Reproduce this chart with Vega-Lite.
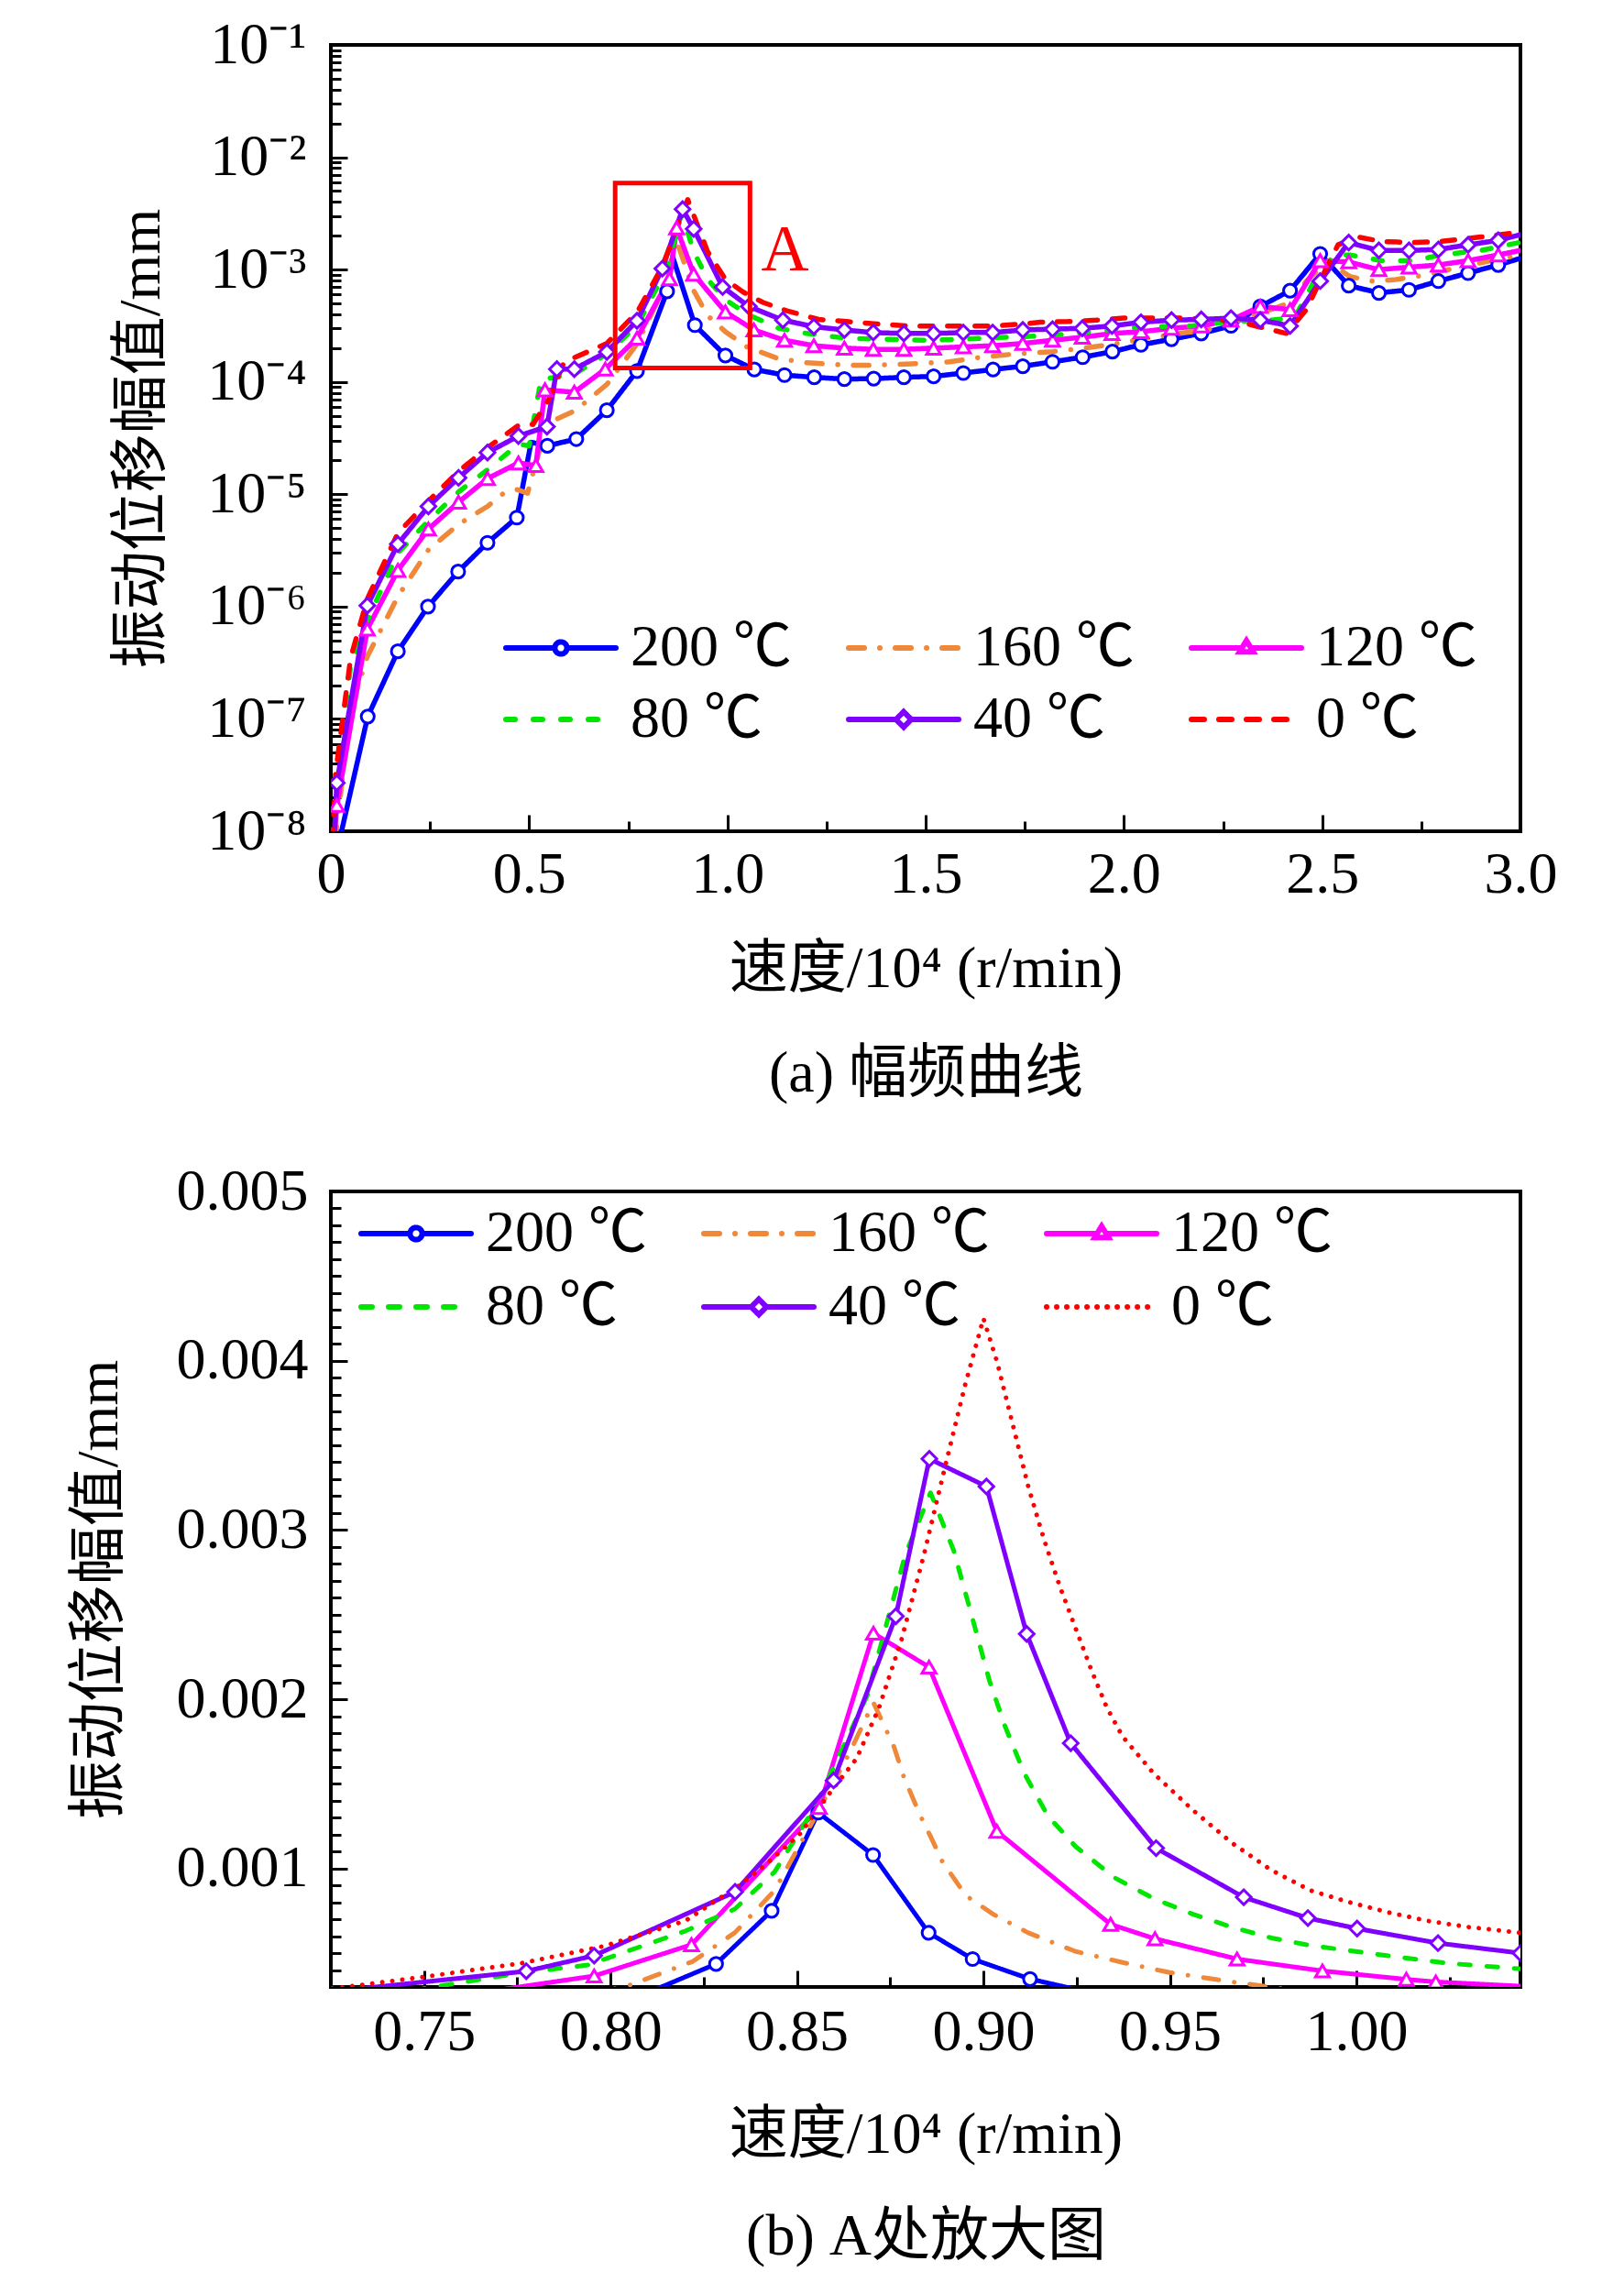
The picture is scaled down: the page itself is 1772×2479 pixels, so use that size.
{
  "$schema": "https://vega.github.io/schema/vega-lite/v6.json",
  "background": "white",
  "padding": {"left": 73, "top": 15, "right": 5, "bottom": 5},
  "config": {
    "font": "Liberation Serif, Noto Sans CJK SC",
    "view": {"stroke": "black", "strokeWidth": 4},
    "axis": {"domain": false, "grid": false, "labelFont": "Liberation Serif, Noto Sans CJK SC", "labelFontSize": 64, "labelColor": "black", "titleFont": "Liberation Serif, Noto Sans CJK SC", "titleFontSize": 64, "titleFontWeight": "normal", "titleColor": "black", "tickColor": "black", "tickWidth": 3, "labelFlush": false, "labelOverlap": false, "labelBound": false},
    "legend": {"labelFont": "Liberation Serif, Noto Sans CJK SC", "labelFontSize": 64, "labelColor": "black", "labelLimit": 0}
  },
  "datasets": {
    "topLines": [
      {"speed": 0.02, "amp": 7.8e-9, "temp": "200 ℃"}, {"speed": 0.093, "amp": 1.05e-7, "temp": "200 ℃"}, {"speed": 0.169, "amp": 4.0e-7, "temp": "200 ℃"}, {"speed": 0.245, "amp": 1.0e-6, "temp": "200 ℃"}, {"speed": 0.321, "amp": 2.05e-6, "temp": "200 ℃"}, {"speed": 0.395, "amp": 3.7e-6, "temp": "200 ℃"}, {"speed": 0.469, "amp": 6.2e-6, "temp": "200 ℃"}, {"speed": 0.505, "amp": 2.9e-5, "temp": "200 ℃"}, {"speed": 0.546, "amp": 2.7e-5, "temp": "200 ℃"}, {"speed": 0.619, "amp": 3.1e-5, "temp": "200 ℃"}, {"speed": 0.696, "amp": 5.6e-5, "temp": "200 ℃"}, {"speed": 0.772, "amp": 1.25e-4, "temp": "200 ℃"}, {"speed": 0.848, "amp": 6.4e-4, "temp": "200 ℃"}, {"speed": 0.862, "amp": 1.3e-3, "temp": "200 ℃"}, {"speed": 0.918, "amp": 3.2e-4, "temp": "200 ℃"}, {"speed": 0.995, "amp": 1.72e-4, "temp": "200 ℃"}, {"speed": 1.068, "amp": 1.29e-4, "temp": "200 ℃"}, {"speed": 1.144, "amp": 1.15e-4, "temp": "200 ℃"}, {"speed": 1.219, "amp": 1.1e-4, "temp": "200 ℃"}, {"speed": 1.295, "amp": 1.06e-4, "temp": "200 ℃"}, {"speed": 1.369, "amp": 1.07e-4, "temp": "200 ℃"}, {"speed": 1.445, "amp": 1.1e-4, "temp": "200 ℃"}, {"speed": 1.52, "amp": 1.12e-4, "temp": "200 ℃"}, {"speed": 1.595, "amp": 1.2e-4, "temp": "200 ℃"}, {"speed": 1.67, "amp": 1.29e-4, "temp": "200 ℃"}, {"speed": 1.745, "amp": 1.38e-4, "temp": "200 ℃"}, {"speed": 1.82, "amp": 1.51e-4, "temp": "200 ℃"}, {"speed": 1.896, "amp": 1.66e-4, "temp": "200 ℃"}, {"speed": 1.971, "amp": 1.86e-4, "temp": "200 ℃"}, {"speed": 2.043, "amp": 2.14e-4, "temp": "200 ℃"}, {"speed": 2.12, "amp": 2.4e-4, "temp": "200 ℃"}, {"speed": 2.195, "amp": 2.7e-4, "temp": "200 ℃"}, {"speed": 2.27, "amp": 3.16e-4, "temp": "200 ℃"}, {"speed": 2.344, "amp": 4.7e-4, "temp": "200 ℃"}, {"speed": 2.419, "amp": 6.5e-4, "temp": "200 ℃"}, {"speed": 2.495, "amp": 1.38e-3, "temp": "200 ℃"}, {"speed": 2.567, "amp": 7.2e-4, "temp": "200 ℃"}, {"speed": 2.643, "amp": 6.2e-4, "temp": "200 ℃"}, {"speed": 2.719, "amp": 6.6e-4, "temp": "200 ℃"}, {"speed": 2.793, "amp": 7.9e-4, "temp": "200 ℃"}, {"speed": 2.868, "amp": 9.3e-4, "temp": "200 ℃"}, {"speed": 2.944, "amp": 1.1e-3, "temp": "200 ℃"}, {"speed": 3.0, "amp": 1.26e-3, "temp": "200 ℃"},
      {"speed": 0.01, "amp": 8e-9, "temp": "160 ℃"}, {"speed": 0.05, "amp": 1.2e-7, "temp": "160 ℃"}, {"speed": 0.092, "amp": 3.6e-7, "temp": "160 ℃"}, {"speed": 0.169, "amp": 1.23e-6, "temp": "160 ℃"}, {"speed": 0.246, "amp": 3.2e-6, "temp": "160 ℃"}, {"speed": 0.322, "amp": 5.4e-6, "temp": "160 ℃"}, {"speed": 0.395, "amp": 7.8e-6, "temp": "160 ℃"}, {"speed": 0.44, "amp": 1.05e-5, "temp": "160 ℃"}, {"speed": 0.47, "amp": 1.1e-5, "temp": "160 ℃"}, {"speed": 0.496, "amp": 1.02e-5, "temp": "160 ℃"}, {"speed": 0.535, "amp": 3.2e-5, "temp": "160 ℃"}, {"speed": 0.56, "amp": 4.5e-5, "temp": "160 ℃"}, {"speed": 0.618, "amp": 5.6e-5, "temp": "160 ℃"}, {"speed": 0.696, "amp": 9.5e-5, "temp": "160 ℃"}, {"speed": 0.773, "amp": 2.2e-4, "temp": "160 ℃"}, {"speed": 0.848, "amp": 7.9e-4, "temp": "160 ℃"}, {"speed": 0.87, "amp": 1.9e-3, "temp": "160 ℃"}, {"speed": 0.915, "amp": 6.5e-4, "temp": "160 ℃"}, {"speed": 0.95, "amp": 3.9e-4, "temp": "160 ℃"}, {"speed": 0.995, "amp": 2.8e-4, "temp": "160 ℃"}, {"speed": 1.05, "amp": 2.04e-4, "temp": "160 ℃"}, {"speed": 1.127, "amp": 1.62e-4, "temp": "160 ℃"}, {"speed": 1.2, "amp": 1.48e-4, "temp": "160 ℃"}, {"speed": 1.3, "amp": 1.41e-4, "temp": "160 ℃"}, {"speed": 1.37, "amp": 1.41e-4, "temp": "160 ℃"}, {"speed": 1.465, "amp": 1.45e-4, "temp": "160 ℃"}, {"speed": 1.56, "amp": 1.51e-4, "temp": "160 ℃"}, {"speed": 1.64, "amp": 1.66e-4, "temp": "160 ℃"}, {"speed": 1.73, "amp": 1.78e-4, "temp": "160 ℃"}, {"speed": 1.82, "amp": 1.86e-4, "temp": "160 ℃"}, {"speed": 1.9, "amp": 2.0e-4, "temp": "160 ℃"}, {"speed": 2.0, "amp": 2.24e-4, "temp": "160 ℃"}, {"speed": 2.06, "amp": 2.45e-4, "temp": "160 ℃"}, {"speed": 2.14, "amp": 2.7e-4, "temp": "160 ℃"}, {"speed": 2.22, "amp": 2.95e-4, "temp": "160 ℃"}, {"speed": 2.29, "amp": 3.55e-4, "temp": "160 ℃"}, {"speed": 2.37, "amp": 4.4e-4, "temp": "160 ℃"}, {"speed": 2.42, "amp": 5.1e-4, "temp": "160 ℃"}, {"speed": 2.46, "amp": 7.9e-4, "temp": "160 ℃"}, {"speed": 2.5, "amp": 1.07e-3, "temp": "160 ℃"}, {"speed": 2.53, "amp": 1.07e-3, "temp": "160 ℃"}, {"speed": 2.57, "amp": 8.7e-4, "temp": "160 ℃"}, {"speed": 2.62, "amp": 7.9e-4, "temp": "160 ℃"}, {"speed": 2.68, "amp": 8.1e-4, "temp": "160 ℃"}, {"speed": 2.74, "amp": 8.7e-4, "temp": "160 ℃"}, {"speed": 2.82, "amp": 1.0e-3, "temp": "160 ℃"}, {"speed": 2.91, "amp": 1.17e-3, "temp": "160 ℃"}, {"speed": 3.0, "amp": 1.35e-3, "temp": "160 ℃"},
      {"speed": 0.008, "amp": 8e-9, "temp": "120 ℃"}, {"speed": 0.015, "amp": 1.7e-8, "temp": "120 ℃"}, {"speed": 0.092, "amp": 6.3e-7, "temp": "120 ℃"}, {"speed": 0.169, "amp": 2.1e-6, "temp": "120 ℃"}, {"speed": 0.246, "amp": 4.9e-6, "temp": "120 ℃"}, {"speed": 0.322, "amp": 8.5e-6, "temp": "120 ℃"}, {"speed": 0.395, "amp": 1.38e-5, "temp": "120 ℃"}, {"speed": 0.473, "amp": 1.9e-5, "temp": "120 ℃"}, {"speed": 0.517, "amp": 1.8e-5, "temp": "120 ℃"}, {"speed": 0.54, "amp": 8.5e-5, "temp": "120 ℃"}, {"speed": 0.614, "amp": 8.1e-5, "temp": "120 ℃"}, {"speed": 0.692, "amp": 1.3e-4, "temp": "120 ℃"}, {"speed": 0.772, "amp": 2.45e-4, "temp": "120 ℃"}, {"speed": 0.854, "amp": 8.3e-4, "temp": "120 ℃"}, {"speed": 0.872, "amp": 2.35e-3, "temp": "120 ℃"}, {"speed": 0.915, "amp": 9.1e-4, "temp": "120 ℃"}, {"speed": 0.995, "amp": 4.2e-4, "temp": "120 ℃"}, {"speed": 1.067, "amp": 2.9e-4, "temp": "120 ℃"}, {"speed": 1.144, "amp": 2.35e-4, "temp": "120 ℃"}, {"speed": 1.218, "amp": 2.1e-4, "temp": "120 ℃"}, {"speed": 1.295, "amp": 2.0e-4, "temp": "120 ℃"}, {"speed": 1.368, "amp": 1.95e-4, "temp": "120 ℃"}, {"speed": 1.445, "amp": 1.95e-4, "temp": "120 ℃"}, {"speed": 1.52, "amp": 2.0e-4, "temp": "120 ℃"}, {"speed": 1.595, "amp": 2.05e-4, "temp": "120 ℃"}, {"speed": 1.669, "amp": 2.1e-4, "temp": "120 ℃"}, {"speed": 1.745, "amp": 2.2e-4, "temp": "120 ℃"}, {"speed": 1.82, "amp": 2.35e-4, "temp": "120 ℃"}, {"speed": 1.895, "amp": 2.5e-4, "temp": "120 ℃"}, {"speed": 1.97, "amp": 2.7e-4, "temp": "120 ℃"}, {"speed": 2.043, "amp": 2.8e-4, "temp": "120 ℃"}, {"speed": 2.12, "amp": 3.0e-4, "temp": "120 ℃"}, {"speed": 2.195, "amp": 3.15e-4, "temp": "120 ℃"}, {"speed": 2.27, "amp": 3.55e-4, "temp": "120 ℃"}, {"speed": 2.344, "amp": 4.7e-4, "temp": "120 ℃"}, {"speed": 2.419, "amp": 4.4e-4, "temp": "120 ℃"}, {"speed": 2.495, "amp": 1.2e-3, "temp": "120 ℃"}, {"speed": 2.567, "amp": 1.17e-3, "temp": "120 ℃"}, {"speed": 2.643, "amp": 1.0e-3, "temp": "120 ℃"}, {"speed": 2.719, "amp": 1.05e-3, "temp": "120 ℃"}, {"speed": 2.793, "amp": 1.1e-3, "temp": "120 ℃"}, {"speed": 2.868, "amp": 1.2e-3, "temp": "120 ℃"}, {"speed": 2.944, "amp": 1.35e-3, "temp": "120 ℃"}, {"speed": 3.0, "amp": 1.48e-3, "temp": "120 ℃"},
      {"speed": 0.006, "amp": 8e-9, "temp": "80 ℃"}, {"speed": 0.015, "amp": 3e-8, "temp": "80 ℃"}, {"speed": 0.05, "amp": 3e-7, "temp": "80 ℃"}, {"speed": 0.092, "amp": 7.5e-7, "temp": "80 ℃"}, {"speed": 0.169, "amp": 3.0e-6, "temp": "80 ℃"}, {"speed": 0.246, "amp": 5.8e-6, "temp": "80 ℃"}, {"speed": 0.322, "amp": 1.05e-5, "temp": "80 ℃"}, {"speed": 0.395, "amp": 1.65e-5, "temp": "80 ℃"}, {"speed": 0.473, "amp": 2.8e-5, "temp": "80 ℃"}, {"speed": 0.5, "amp": 2.7e-5, "temp": "80 ℃"}, {"speed": 0.53, "amp": 1.05e-4, "temp": "80 ℃"}, {"speed": 0.614, "amp": 1.17e-4, "temp": "80 ℃"}, {"speed": 0.696, "amp": 1.78e-4, "temp": "80 ℃"}, {"speed": 0.773, "amp": 3.2e-4, "temp": "80 ℃"}, {"speed": 0.85, "amp": 1.07e-3, "temp": "80 ℃"}, {"speed": 0.885, "amp": 3.2e-3, "temp": "80 ℃"}, {"speed": 0.915, "amp": 1.45e-3, "temp": "80 ℃"}, {"speed": 0.95, "amp": 8.2e-4, "temp": "80 ℃"}, {"speed": 0.995, "amp": 5.4e-4, "temp": "80 ℃"}, {"speed": 1.05, "amp": 4.0e-4, "temp": "80 ℃"}, {"speed": 1.13, "amp": 3.0e-4, "temp": "80 ℃"}, {"speed": 1.2, "amp": 2.7e-4, "temp": "80 ℃"}, {"speed": 1.3, "amp": 2.45e-4, "temp": "80 ℃"}, {"speed": 1.4, "amp": 2.4e-4, "temp": "80 ℃"}, {"speed": 1.5, "amp": 2.35e-4, "temp": "80 ℃"}, {"speed": 1.6, "amp": 2.4e-4, "temp": "80 ℃"}, {"speed": 1.7, "amp": 2.5e-4, "temp": "80 ℃"}, {"speed": 1.8, "amp": 2.57e-4, "temp": "80 ℃"}, {"speed": 1.9, "amp": 2.75e-4, "temp": "80 ℃"}, {"speed": 2.0, "amp": 3.0e-4, "temp": "80 ℃"}, {"speed": 2.06, "amp": 3.1e-4, "temp": "80 ℃"}, {"speed": 2.17, "amp": 3.15e-4, "temp": "80 ℃"}, {"speed": 2.27, "amp": 3.45e-4, "temp": "80 ℃"}, {"speed": 2.37, "amp": 3.55e-4, "temp": "80 ℃"}, {"speed": 2.43, "amp": 3.7e-4, "temp": "80 ℃"}, {"speed": 2.48, "amp": 7.9e-4, "temp": "80 ℃"}, {"speed": 2.53, "amp": 1.35e-3, "temp": "80 ℃"}, {"speed": 2.57, "amp": 1.35e-3, "temp": "80 ℃"}, {"speed": 2.65, "amp": 1.2e-3, "temp": "80 ℃"}, {"speed": 2.73, "amp": 1.2e-3, "temp": "80 ℃"}, {"speed": 2.8, "amp": 1.35e-3, "temp": "80 ℃"}, {"speed": 2.9, "amp": 1.48e-3, "temp": "80 ℃"}, {"speed": 3.0, "amp": 1.75e-3, "temp": "80 ℃"},
      {"speed": 0.008, "amp": 8e-9, "temp": "40 ℃"}, {"speed": 0.015, "amp": 2.7e-8, "temp": "40 ℃"}, {"speed": 0.092, "amp": 1.02e-6, "temp": "40 ℃"}, {"speed": 0.169, "amp": 3.6e-6, "temp": "40 ℃"}, {"speed": 0.246, "amp": 7.8e-6, "temp": "40 ℃"}, {"speed": 0.322, "amp": 1.4e-5, "temp": "40 ℃"}, {"speed": 0.395, "amp": 2.35e-5, "temp": "40 ℃"}, {"speed": 0.473, "amp": 3.3e-5, "temp": "40 ℃"}, {"speed": 0.545, "amp": 4.0e-5, "temp": "40 ℃"}, {"speed": 0.57, "amp": 1.3e-4, "temp": "40 ℃"}, {"speed": 0.614, "amp": 1.3e-4, "temp": "40 ℃"}, {"speed": 0.696, "amp": 1.85e-4, "temp": "40 ℃"}, {"speed": 0.772, "amp": 3.5e-4, "temp": "40 ℃"}, {"speed": 0.836, "amp": 1.02e-3, "temp": "40 ℃"}, {"speed": 0.887, "amp": 3.45e-3, "temp": "40 ℃"}, {"speed": 0.915, "amp": 2.3e-3, "temp": "40 ℃"}, {"speed": 0.988, "amp": 7.0e-4, "temp": "40 ℃"}, {"speed": 1.054, "amp": 4.7e-4, "temp": "40 ℃"}, {"speed": 1.14, "amp": 3.55e-4, "temp": "40 ℃"}, {"speed": 1.218, "amp": 3.1e-4, "temp": "40 ℃"}, {"speed": 1.295, "amp": 2.9e-4, "temp": "40 ℃"}, {"speed": 1.368, "amp": 2.75e-4, "temp": "40 ℃"}, {"speed": 1.445, "amp": 2.7e-4, "temp": "40 ℃"}, {"speed": 1.52, "amp": 2.7e-4, "temp": "40 ℃"}, {"speed": 1.595, "amp": 2.75e-4, "temp": "40 ℃"}, {"speed": 1.669, "amp": 2.75e-4, "temp": "40 ℃"}, {"speed": 1.745, "amp": 2.9e-4, "temp": "40 ℃"}, {"speed": 1.82, "amp": 2.95e-4, "temp": "40 ℃"}, {"speed": 1.895, "amp": 3.0e-4, "temp": "40 ℃"}, {"speed": 1.97, "amp": 3.15e-4, "temp": "40 ℃"}, {"speed": 2.043, "amp": 3.4e-4, "temp": "40 ℃"}, {"speed": 2.12, "amp": 3.55e-4, "temp": "40 ℃"}, {"speed": 2.195, "amp": 3.6e-4, "temp": "40 ℃"}, {"speed": 2.27, "amp": 3.7e-4, "temp": "40 ℃"}, {"speed": 2.344, "amp": 3.55e-4, "temp": "40 ℃"}, {"speed": 2.419, "amp": 3.15e-4, "temp": "40 ℃"}, {"speed": 2.495, "amp": 7.9e-4, "temp": "40 ℃"}, {"speed": 2.567, "amp": 1.74e-3, "temp": "40 ℃"}, {"speed": 2.643, "amp": 1.48e-3, "temp": "40 ℃"}, {"speed": 2.719, "amp": 1.48e-3, "temp": "40 ℃"}, {"speed": 2.793, "amp": 1.51e-3, "temp": "40 ℃"}, {"speed": 2.868, "amp": 1.66e-3, "temp": "40 ℃"}, {"speed": 2.944, "amp": 1.82e-3, "temp": "40 ℃"}, {"speed": 3.0, "amp": 2.05e-3, "temp": "40 ℃"},
      {"speed": 0.004, "amp": 8e-9, "temp": "0 ℃"}, {"speed": 0.012, "amp": 3.3e-8, "temp": "0 ℃"}, {"speed": 0.05, "amp": 3.5e-7, "temp": "0 ℃"}, {"speed": 0.092, "amp": 1.17e-6, "temp": "0 ℃"}, {"speed": 0.169, "amp": 4.5e-6, "temp": "0 ℃"}, {"speed": 0.246, "amp": 8.7e-6, "temp": "0 ℃"}, {"speed": 0.322, "amp": 1.6e-5, "temp": "0 ℃"}, {"speed": 0.395, "amp": 2.6e-5, "temp": "0 ℃"}, {"speed": 0.473, "amp": 4.1e-5, "temp": "0 ℃"}, {"speed": 0.51, "amp": 4.2e-5, "temp": "0 ℃"}, {"speed": 0.55, "amp": 7.0e-5, "temp": "0 ℃"}, {"speed": 0.588, "amp": 1.5e-4, "temp": "0 ℃"}, {"speed": 0.696, "amp": 2.2e-4, "temp": "0 ℃"}, {"speed": 0.773, "amp": 4.2e-4, "temp": "0 ℃"}, {"speed": 0.836, "amp": 1.07e-3, "temp": "0 ℃"}, {"speed": 0.9, "amp": 4.2e-3, "temp": "0 ℃"}, {"speed": 0.95, "amp": 1.45e-3, "temp": "0 ℃"}, {"speed": 0.995, "amp": 8.2e-4, "temp": "0 ℃"}, {"speed": 1.04, "amp": 6.3e-4, "temp": "0 ℃"}, {"speed": 1.09, "amp": 5.1e-4, "temp": "0 ℃"}, {"speed": 1.15, "amp": 4.3e-4, "temp": "0 ℃"}, {"speed": 1.23, "amp": 3.6e-4, "temp": "0 ℃"}, {"speed": 1.3, "amp": 3.45e-4, "temp": "0 ℃"}, {"speed": 1.37, "amp": 3.3e-4, "temp": "0 ℃"}, {"speed": 1.45, "amp": 3.15e-4, "temp": "0 ℃"}, {"speed": 1.51, "amp": 3.15e-4, "temp": "0 ℃"}, {"speed": 1.59, "amp": 3.15e-4, "temp": "0 ℃"}, {"speed": 1.67, "amp": 3.15e-4, "temp": "0 ℃"}, {"speed": 1.73, "amp": 3.25e-4, "temp": "0 ℃"}, {"speed": 1.79, "amp": 3.4e-4, "temp": "0 ℃"}, {"speed": 1.86, "amp": 3.45e-4, "temp": "0 ℃"}, {"speed": 1.93, "amp": 3.55e-4, "temp": "0 ℃"}, {"speed": 2.0, "amp": 3.7e-4, "temp": "0 ℃"}, {"speed": 2.06, "amp": 3.7e-4, "temp": "0 ℃"}, {"speed": 2.14, "amp": 3.7e-4, "temp": "0 ℃"}, {"speed": 2.22, "amp": 3.6e-4, "temp": "0 ℃"}, {"speed": 2.29, "amp": 3.45e-4, "temp": "0 ℃"}, {"speed": 2.34, "amp": 3.1e-4, "temp": "0 ℃"}, {"speed": 2.41, "amp": 2.7e-4, "temp": "0 ℃"}, {"speed": 2.46, "amp": 4.4e-4, "temp": "0 ℃"}, {"speed": 2.5, "amp": 8.7e-4, "temp": "0 ℃"}, {"speed": 2.54, "amp": 1.66e-3, "temp": "0 ℃"}, {"speed": 2.59, "amp": 1.95e-3, "temp": "0 ℃"}, {"speed": 2.65, "amp": 1.78e-3, "temp": "0 ℃"}, {"speed": 2.73, "amp": 1.74e-3, "temp": "0 ℃"}, {"speed": 2.8, "amp": 1.78e-3, "temp": "0 ℃"}, {"speed": 2.9, "amp": 1.95e-3, "temp": "0 ℃"}, {"speed": 3.0, "amp": 2.15e-3, "temp": "0 ℃"}
    ],
    "topMarks": [
      {"speed": 0.093, "amp": 1.05e-7, "temp": "200 ℃"}, {"speed": 0.169, "amp": 4.0e-7, "temp": "200 ℃"}, {"speed": 0.245, "amp": 1.0e-6, "temp": "200 ℃"}, {"speed": 0.321, "amp": 2.05e-6, "temp": "200 ℃"}, {"speed": 0.395, "amp": 3.7e-6, "temp": "200 ℃"}, {"speed": 0.469, "amp": 6.2e-6, "temp": "200 ℃"}, {"speed": 0.546, "amp": 2.7e-5, "temp": "200 ℃"}, {"speed": 0.619, "amp": 3.1e-5, "temp": "200 ℃"}, {"speed": 0.696, "amp": 5.6e-5, "temp": "200 ℃"}, {"speed": 0.772, "amp": 1.25e-4, "temp": "200 ℃"}, {"speed": 0.848, "amp": 6.4e-4, "temp": "200 ℃"}, {"speed": 0.918, "amp": 3.2e-4, "temp": "200 ℃"}, {"speed": 0.995, "amp": 1.72e-4, "temp": "200 ℃"}, {"speed": 1.068, "amp": 1.29e-4, "temp": "200 ℃"}, {"speed": 1.144, "amp": 1.15e-4, "temp": "200 ℃"}, {"speed": 1.219, "amp": 1.1e-4, "temp": "200 ℃"}, {"speed": 1.295, "amp": 1.06e-4, "temp": "200 ℃"}, {"speed": 1.369, "amp": 1.07e-4, "temp": "200 ℃"}, {"speed": 1.445, "amp": 1.1e-4, "temp": "200 ℃"}, {"speed": 1.52, "amp": 1.12e-4, "temp": "200 ℃"}, {"speed": 1.595, "amp": 1.2e-4, "temp": "200 ℃"}, {"speed": 1.67, "amp": 1.29e-4, "temp": "200 ℃"}, {"speed": 1.745, "amp": 1.38e-4, "temp": "200 ℃"}, {"speed": 1.82, "amp": 1.51e-4, "temp": "200 ℃"}, {"speed": 1.896, "amp": 1.66e-4, "temp": "200 ℃"}, {"speed": 1.971, "amp": 1.86e-4, "temp": "200 ℃"}, {"speed": 2.043, "amp": 2.14e-4, "temp": "200 ℃"}, {"speed": 2.12, "amp": 2.4e-4, "temp": "200 ℃"}, {"speed": 2.195, "amp": 2.7e-4, "temp": "200 ℃"}, {"speed": 2.27, "amp": 3.16e-4, "temp": "200 ℃"}, {"speed": 2.344, "amp": 4.7e-4, "temp": "200 ℃"}, {"speed": 2.419, "amp": 6.5e-4, "temp": "200 ℃"}, {"speed": 2.495, "amp": 1.38e-3, "temp": "200 ℃"}, {"speed": 2.567, "amp": 7.2e-4, "temp": "200 ℃"}, {"speed": 2.643, "amp": 6.2e-4, "temp": "200 ℃"}, {"speed": 2.719, "amp": 6.6e-4, "temp": "200 ℃"}, {"speed": 2.793, "amp": 7.9e-4, "temp": "200 ℃"}, {"speed": 2.868, "amp": 9.3e-4, "temp": "200 ℃"}, {"speed": 2.944, "amp": 1.1e-3, "temp": "200 ℃"},
      {"speed": 0.015, "amp": 1.7e-8, "temp": "120 ℃"}, {"speed": 0.092, "amp": 6.3e-7, "temp": "120 ℃"}, {"speed": 0.169, "amp": 2.1e-6, "temp": "120 ℃"}, {"speed": 0.246, "amp": 4.9e-6, "temp": "120 ℃"}, {"speed": 0.322, "amp": 8.5e-6, "temp": "120 ℃"}, {"speed": 0.395, "amp": 1.38e-5, "temp": "120 ℃"}, {"speed": 0.473, "amp": 1.9e-5, "temp": "120 ℃"}, {"speed": 0.517, "amp": 1.8e-5, "temp": "120 ℃"}, {"speed": 0.54, "amp": 8.5e-5, "temp": "120 ℃"}, {"speed": 0.614, "amp": 8.1e-5, "temp": "120 ℃"}, {"speed": 0.692, "amp": 1.3e-4, "temp": "120 ℃"}, {"speed": 0.772, "amp": 2.45e-4, "temp": "120 ℃"}, {"speed": 0.854, "amp": 8.3e-4, "temp": "120 ℃"}, {"speed": 0.872, "amp": 2.35e-3, "temp": "120 ℃"}, {"speed": 0.915, "amp": 9.1e-4, "temp": "120 ℃"}, {"speed": 0.995, "amp": 4.2e-4, "temp": "120 ℃"}, {"speed": 1.067, "amp": 2.9e-4, "temp": "120 ℃"}, {"speed": 1.144, "amp": 2.35e-4, "temp": "120 ℃"}, {"speed": 1.218, "amp": 2.1e-4, "temp": "120 ℃"}, {"speed": 1.295, "amp": 2.0e-4, "temp": "120 ℃"}, {"speed": 1.368, "amp": 1.95e-4, "temp": "120 ℃"}, {"speed": 1.445, "amp": 1.95e-4, "temp": "120 ℃"}, {"speed": 1.52, "amp": 2.0e-4, "temp": "120 ℃"}, {"speed": 1.595, "amp": 2.05e-4, "temp": "120 ℃"}, {"speed": 1.669, "amp": 2.1e-4, "temp": "120 ℃"}, {"speed": 1.745, "amp": 2.2e-4, "temp": "120 ℃"}, {"speed": 1.82, "amp": 2.35e-4, "temp": "120 ℃"}, {"speed": 1.895, "amp": 2.5e-4, "temp": "120 ℃"}, {"speed": 1.97, "amp": 2.7e-4, "temp": "120 ℃"}, {"speed": 2.043, "amp": 2.8e-4, "temp": "120 ℃"}, {"speed": 2.12, "amp": 3.0e-4, "temp": "120 ℃"}, {"speed": 2.195, "amp": 3.15e-4, "temp": "120 ℃"}, {"speed": 2.27, "amp": 3.55e-4, "temp": "120 ℃"}, {"speed": 2.344, "amp": 4.7e-4, "temp": "120 ℃"}, {"speed": 2.419, "amp": 4.4e-4, "temp": "120 ℃"}, {"speed": 2.495, "amp": 1.2e-3, "temp": "120 ℃"}, {"speed": 2.567, "amp": 1.17e-3, "temp": "120 ℃"}, {"speed": 2.643, "amp": 1.0e-3, "temp": "120 ℃"}, {"speed": 2.719, "amp": 1.05e-3, "temp": "120 ℃"}, {"speed": 2.793, "amp": 1.1e-3, "temp": "120 ℃"}, {"speed": 2.868, "amp": 1.2e-3, "temp": "120 ℃"}, {"speed": 2.944, "amp": 1.35e-3, "temp": "120 ℃"},
      {"speed": 0.015, "amp": 2.7e-8, "temp": "40 ℃"}, {"speed": 0.092, "amp": 1.02e-6, "temp": "40 ℃"}, {"speed": 0.169, "amp": 3.6e-6, "temp": "40 ℃"}, {"speed": 0.246, "amp": 7.8e-6, "temp": "40 ℃"}, {"speed": 0.322, "amp": 1.4e-5, "temp": "40 ℃"}, {"speed": 0.395, "amp": 2.35e-5, "temp": "40 ℃"}, {"speed": 0.473, "amp": 3.3e-5, "temp": "40 ℃"}, {"speed": 0.545, "amp": 4.0e-5, "temp": "40 ℃"}, {"speed": 0.57, "amp": 1.3e-4, "temp": "40 ℃"}, {"speed": 0.614, "amp": 1.3e-4, "temp": "40 ℃"}, {"speed": 0.696, "amp": 1.85e-4, "temp": "40 ℃"}, {"speed": 0.772, "amp": 3.5e-4, "temp": "40 ℃"}, {"speed": 0.836, "amp": 1.02e-3, "temp": "40 ℃"}, {"speed": 0.887, "amp": 3.45e-3, "temp": "40 ℃"}, {"speed": 0.915, "amp": 2.3e-3, "temp": "40 ℃"}, {"speed": 0.988, "amp": 7.0e-4, "temp": "40 ℃"}, {"speed": 1.054, "amp": 4.7e-4, "temp": "40 ℃"}, {"speed": 1.14, "amp": 3.55e-4, "temp": "40 ℃"}, {"speed": 1.218, "amp": 3.1e-4, "temp": "40 ℃"}, {"speed": 1.295, "amp": 2.9e-4, "temp": "40 ℃"}, {"speed": 1.368, "amp": 2.75e-4, "temp": "40 ℃"}, {"speed": 1.445, "amp": 2.7e-4, "temp": "40 ℃"}, {"speed": 1.52, "amp": 2.7e-4, "temp": "40 ℃"}, {"speed": 1.595, "amp": 2.75e-4, "temp": "40 ℃"}, {"speed": 1.669, "amp": 2.75e-4, "temp": "40 ℃"}, {"speed": 1.745, "amp": 2.9e-4, "temp": "40 ℃"}, {"speed": 1.82, "amp": 2.95e-4, "temp": "40 ℃"}, {"speed": 1.895, "amp": 3.0e-4, "temp": "40 ℃"}, {"speed": 1.97, "amp": 3.15e-4, "temp": "40 ℃"}, {"speed": 2.043, "amp": 3.4e-4, "temp": "40 ℃"}, {"speed": 2.12, "amp": 3.55e-4, "temp": "40 ℃"}, {"speed": 2.195, "amp": 3.6e-4, "temp": "40 ℃"}, {"speed": 2.27, "amp": 3.7e-4, "temp": "40 ℃"}, {"speed": 2.344, "amp": 3.55e-4, "temp": "40 ℃"}, {"speed": 2.419, "amp": 3.15e-4, "temp": "40 ℃"}, {"speed": 2.495, "amp": 7.9e-4, "temp": "40 ℃"}, {"speed": 2.567, "amp": 1.74e-3, "temp": "40 ℃"}, {"speed": 2.643, "amp": 1.48e-3, "temp": "40 ℃"}, {"speed": 2.719, "amp": 1.48e-3, "temp": "40 ℃"}, {"speed": 2.793, "amp": 1.51e-3, "temp": "40 ℃"}, {"speed": 2.868, "amp": 1.66e-3, "temp": "40 ℃"}, {"speed": 2.944, "amp": 1.82e-3, "temp": "40 ℃"}
    ],
    "zoomLines": [
      {"speed": 0.805, "amp": 2.2e-4, "temp": "200 ℃"}, {"speed": 0.8283, "amp": 4.36e-4, "temp": "200 ℃"}, {"speed": 0.8432, "amp": 7.5e-4, "temp": "200 ℃"}, {"speed": 0.8557, "amp": 1.33e-3, "temp": "200 ℃"}, {"speed": 0.8704, "amp": 1.08e-3, "temp": "200 ℃"}, {"speed": 0.8853, "amp": 6.2e-4, "temp": "200 ℃"}, {"speed": 0.8971, "amp": 4.65e-4, "temp": "200 ℃"}, {"speed": 0.9125, "amp": 3.47e-4, "temp": "200 ℃"}, {"speed": 0.94, "amp": 2.1e-4, "temp": "200 ℃"},
      {"speed": 0.785, "amp": 2.0e-4, "temp": "160 ℃"}, {"speed": 0.805, "amp": 3.1e-4, "temp": "160 ℃"}, {"speed": 0.822, "amp": 4.5e-4, "temp": "160 ℃"}, {"speed": 0.8333, "amp": 6.2e-4, "temp": "160 ℃"}, {"speed": 0.844, "amp": 8.7e-4, "temp": "160 ℃"}, {"speed": 0.855, "amp": 1.31e-3, "temp": "160 ℃"}, {"speed": 0.864, "amp": 1.68e-3, "temp": "160 ℃"}, {"speed": 0.8705, "amp": 1.98e-3, "temp": "160 ℃"}, {"speed": 0.876, "amp": 1.72e-3, "temp": "160 ℃"}, {"speed": 0.8785, "amp": 1.55e-3, "temp": "160 ℃"}, {"speed": 0.8827, "amp": 1.33e-3, "temp": "160 ℃"}, {"speed": 0.8858, "amp": 1.19e-3, "temp": "160 ℃"}, {"speed": 0.889, "amp": 1.04e-3, "temp": "160 ℃"}, {"speed": 0.8953, "amp": 8.4e-4, "temp": "160 ℃"}, {"speed": 0.9026, "amp": 7.3e-4, "temp": "160 ℃"}, {"speed": 0.912, "amp": 6.2e-4, "temp": "160 ℃"}, {"speed": 0.9247, "amp": 5.1e-4, "temp": "160 ℃"}, {"speed": 0.9373, "amp": 4.45e-4, "temp": "160 ℃"}, {"speed": 0.95, "amp": 3.85e-4, "temp": "160 ℃"}, {"speed": 0.9667, "amp": 3.3e-4, "temp": "160 ℃"}, {"speed": 0.975, "amp": 3.05e-4, "temp": "160 ℃"}, {"speed": 0.99, "amp": 2.6e-4, "temp": "160 ℃"},
      {"speed": 0.76, "amp": 2.5e-4, "temp": "120 ℃"}, {"speed": 0.7956, "amp": 3.65e-4, "temp": "120 ℃"}, {"speed": 0.8217, "amp": 5.5e-4, "temp": "120 ℃"}, {"speed": 0.856, "amp": 1.36e-3, "temp": "120 ℃"}, {"speed": 0.8705, "amp": 2.39e-3, "temp": "120 ℃"}, {"speed": 0.8854, "amp": 2.19e-3, "temp": "120 ℃"}, {"speed": 0.9036, "amp": 1.22e-3, "temp": "120 ℃"}, {"speed": 0.9341, "amp": 6.7e-4, "temp": "120 ℃"}, {"speed": 0.946, "amp": 5.85e-4, "temp": "120 ℃"}, {"speed": 0.968, "amp": 4.65e-4, "temp": "120 ℃"}, {"speed": 0.9909, "amp": 3.95e-4, "temp": "120 ℃"}, {"speed": 1.0134, "amp": 3.45e-4, "temp": "120 ℃"}, {"speed": 1.0213, "amp": 3.3e-4, "temp": "120 ℃"}, {"speed": 1.044, "amp": 3.05e-4, "temp": "120 ℃"},
      {"speed": 0.74, "amp": 2.5e-4, "temp": "80 ℃"}, {"speed": 0.7526, "amp": 3.0e-4, "temp": "80 ℃"}, {"speed": 0.775, "amp": 3.8e-4, "temp": "80 ℃"}, {"speed": 0.7939, "amp": 4.3e-4, "temp": "80 ℃"}, {"speed": 0.82, "amp": 6.3e-4, "temp": "80 ℃"}, {"speed": 0.8333, "amp": 7.6e-4, "temp": "80 ℃"}, {"speed": 0.844, "amp": 9.8e-4, "temp": "80 ℃"}, {"speed": 0.855, "amp": 1.37e-3, "temp": "80 ℃"}, {"speed": 0.8688, "amp": 2.02e-3, "temp": "80 ℃"}, {"speed": 0.879, "amp": 2.85e-3, "temp": "80 ℃"}, {"speed": 0.8858, "amp": 3.22e-3, "temp": "80 ℃"}, {"speed": 0.892, "amp": 2.88e-3, "temp": "80 ℃"}, {"speed": 0.8974, "amp": 2.45e-3, "temp": "80 ℃"}, {"speed": 0.9016, "amp": 2.11e-3, "temp": "80 ℃"}, {"speed": 0.9058, "amp": 1.84e-3, "temp": "80 ℃"}, {"speed": 0.911, "amp": 1.56e-3, "temp": "80 ℃"}, {"speed": 0.9173, "amp": 1.31e-3, "temp": "80 ℃"}, {"speed": 0.9247, "amp": 1.13e-3, "temp": "80 ℃"}, {"speed": 0.9352, "amp": 9.45e-4, "temp": "80 ℃"}, {"speed": 0.9457, "amp": 8.22e-4, "temp": "80 ℃"}, {"speed": 0.9562, "amp": 7.3e-4, "temp": "80 ℃"}, {"speed": 0.9667, "amp": 6.53e-4, "temp": "80 ℃"}, {"speed": 0.9772, "amp": 5.9e-4, "temp": "80 ℃"}, {"speed": 0.9877, "amp": 5.45e-4, "temp": "80 ℃"}, {"speed": 0.998, "amp": 5.15e-4, "temp": "80 ℃"}, {"speed": 1.0087, "amp": 4.84e-4, "temp": "80 ℃"}, {"speed": 1.0245, "amp": 4.4e-4, "temp": "80 ℃"}, {"speed": 1.044, "amp": 4.07e-4, "temp": "80 ℃"},
      {"speed": 0.72, "amp": 2.6e-4, "temp": "40 ℃"}, {"speed": 0.735, "amp": 2.95e-4, "temp": "40 ℃"}, {"speed": 0.7774, "amp": 3.93e-4, "temp": "40 ℃"}, {"speed": 0.7956, "amp": 4.85e-4, "temp": "40 ℃"}, {"speed": 0.8334, "amp": 8.62e-4, "temp": "40 ℃"}, {"speed": 0.8598, "amp": 1.52e-3, "temp": "40 ℃"}, {"speed": 0.8765, "amp": 2.49e-3, "temp": "40 ℃"}, {"speed": 0.8855, "amp": 3.42e-3, "temp": "40 ℃"}, {"speed": 0.9008, "amp": 3.257e-3, "temp": "40 ℃"}, {"speed": 0.9116, "amp": 2.386e-3, "temp": "40 ℃"}, {"speed": 0.9234, "amp": 1.74e-3, "temp": "40 ℃"}, {"speed": 0.9463, "amp": 1.12e-3, "temp": "40 ℃"}, {"speed": 0.9698, "amp": 8.3e-4, "temp": "40 ℃"}, {"speed": 0.987, "amp": 7.07e-4, "temp": "40 ℃"}, {"speed": 1.0002, "amp": 6.45e-4, "temp": "40 ℃"}, {"speed": 1.0219, "amp": 5.59e-4, "temp": "40 ℃"}, {"speed": 1.044, "amp": 5.0e-4, "temp": "40 ℃"},
      {"speed": 0.72, "amp": 2.75e-4, "temp": "0 ℃"}, {"speed": 0.7325, "amp": 3.1e-4, "temp": "0 ℃"}, {"speed": 0.75, "amp": 3.6e-4, "temp": "0 ℃"}, {"speed": 0.776, "amp": 4.4e-4, "temp": "0 ℃"}, {"speed": 0.798, "amp": 5.4e-4, "temp": "0 ℃"}, {"speed": 0.82, "amp": 6.9e-4, "temp": "0 ℃"}, {"speed": 0.8345, "amp": 9.0e-4, "temp": "0 ℃"}, {"speed": 0.842, "amp": 1.03e-3, "temp": "0 ℃"}, {"speed": 0.851, "amp": 1.21e-3, "temp": "0 ℃"}, {"speed": 0.8596, "amp": 1.47e-3, "temp": "0 ℃"}, {"speed": 0.866, "amp": 1.65e-3, "temp": "0 ℃"}, {"speed": 0.872, "amp": 1.95e-3, "temp": "0 ℃"}, {"speed": 0.878, "amp": 2.35e-3, "temp": "0 ℃"}, {"speed": 0.884, "amp": 2.85e-3, "temp": "0 ℃"}, {"speed": 0.89, "amp": 3.4e-3, "temp": "0 ℃"}, {"speed": 0.895, "amp": 3.85e-3, "temp": "0 ℃"}, {"speed": 0.9, "amp": 4.25e-3, "temp": "0 ℃"}, {"speed": 0.9037, "amp": 3.99e-3, "temp": "0 ℃"}, {"speed": 0.9079, "amp": 3.62e-3, "temp": "0 ℃"}, {"speed": 0.9121, "amp": 3.25e-3, "temp": "0 ℃"}, {"speed": 0.9163, "amp": 2.94e-3, "temp": "0 ℃"}, {"speed": 0.9205, "amp": 2.665e-3, "temp": "0 ℃"}, {"speed": 0.9247, "amp": 2.42e-3, "temp": "0 ℃"}, {"speed": 0.929, "amp": 2.17e-3, "temp": "0 ℃"}, {"speed": 0.9331, "amp": 1.95e-3, "temp": "0 ℃"}, {"speed": 0.9373, "amp": 1.78e-3, "temp": "0 ℃"}, {"speed": 0.9457, "amp": 1.56e-3, "temp": "0 ℃"}, {"speed": 0.9562, "amp": 1.344e-3, "temp": "0 ℃"}, {"speed": 0.9667, "amp": 1.15e-3, "temp": "0 ℃"}, {"speed": 0.9772, "amp": 9.9e-4, "temp": "0 ℃"}, {"speed": 0.9877, "amp": 8.7e-4, "temp": "0 ℃"}, {"speed": 0.9982, "amp": 8.0e-4, "temp": "0 ℃"}, {"speed": 1.0087, "amp": 7.4e-4, "temp": "0 ℃"}, {"speed": 1.0192, "amp": 6.9e-4, "temp": "0 ℃"}, {"speed": 1.0297, "amp": 6.55e-4, "temp": "0 ℃"}, {"speed": 1.044, "amp": 6.2e-4, "temp": "0 ℃"}
    ],
    "zoomMarks": [
      {"speed": 0.8283, "amp": 4.36e-4, "temp": "200 ℃"}, {"speed": 0.8432, "amp": 7.5e-4, "temp": "200 ℃"}, {"speed": 0.8557, "amp": 1.33e-3, "temp": "200 ℃"}, {"speed": 0.8704, "amp": 1.08e-3, "temp": "200 ℃"}, {"speed": 0.8853, "amp": 6.2e-4, "temp": "200 ℃"}, {"speed": 0.8971, "amp": 4.65e-4, "temp": "200 ℃"}, {"speed": 0.9125, "amp": 3.47e-4, "temp": "200 ℃"},
      {"speed": 0.7956, "amp": 3.65e-4, "temp": "120 ℃"}, {"speed": 0.8217, "amp": 5.5e-4, "temp": "120 ℃"}, {"speed": 0.856, "amp": 1.36e-3, "temp": "120 ℃"}, {"speed": 0.8705, "amp": 2.39e-3, "temp": "120 ℃"}, {"speed": 0.8854, "amp": 2.19e-3, "temp": "120 ℃"}, {"speed": 0.9036, "amp": 1.22e-3, "temp": "120 ℃"}, {"speed": 0.9341, "amp": 6.7e-4, "temp": "120 ℃"}, {"speed": 0.946, "amp": 5.85e-4, "temp": "120 ℃"}, {"speed": 0.968, "amp": 4.65e-4, "temp": "120 ℃"}, {"speed": 0.9909, "amp": 3.95e-4, "temp": "120 ℃"}, {"speed": 1.0134, "amp": 3.45e-4, "temp": "120 ℃"}, {"speed": 1.0213, "amp": 3.3e-4, "temp": "120 ℃"},
      {"speed": 0.7774, "amp": 3.93e-4, "temp": "40 ℃"}, {"speed": 0.7956, "amp": 4.85e-4, "temp": "40 ℃"}, {"speed": 0.8334, "amp": 8.62e-4, "temp": "40 ℃"}, {"speed": 0.8598, "amp": 1.52e-3, "temp": "40 ℃"}, {"speed": 0.8765, "amp": 2.49e-3, "temp": "40 ℃"}, {"speed": 0.8855, "amp": 3.42e-3, "temp": "40 ℃"}, {"speed": 0.9008, "amp": 3.257e-3, "temp": "40 ℃"}, {"speed": 0.9116, "amp": 2.386e-3, "temp": "40 ℃"}, {"speed": 0.9234, "amp": 1.74e-3, "temp": "40 ℃"}, {"speed": 0.9463, "amp": 1.12e-3, "temp": "40 ℃"}, {"speed": 0.9698, "amp": 8.3e-4, "temp": "40 ℃"}, {"speed": 0.987, "amp": 7.07e-4, "temp": "40 ℃"}, {"speed": 1.0002, "amp": 6.45e-4, "temp": "40 ℃"}, {"speed": 1.0219, "amp": 5.59e-4, "temp": "40 ℃"}, {"speed": 1.044, "amp": 5.0e-4, "temp": "40 ℃"}
    ],
    "boxA": [{"x1": 0.717, "x2": 1.057, "y1": 1.33e-4, "y2": 5.9e-3}],
    "labelA": [{"speed": 1.145, "amp": 1.5e-3, "text": "A"}]
  },
  "bounds": "flush",
  "spacing": 393,
  "resolve": {"scale": {"color": "independent", "stroke": "independent", "strokeDash": "independent", "shape": "independent", "size": "independent"}, "legend": {"color": "independent"}},
  "vconcat": [
    {
      "width": 1298,
      "height": 858,
      "layer": [
        {
          "data": {"name": "topLines"},
          "mark": {"type": "line", "strokeWidth": 5.5, "strokeCap": "round", "strokeJoin": "round", "clip": true},
          "encoding": {
            "x": {"field": "speed", "type": "quantitative", "scale": {"domain": [0, 3], "nice": false, "zero": false},
              "axis": {"values": [0, 0.25, 0.5, 0.75, 1, 1.25, 1.5, 1.75, 2, 2.25, 2.5, 2.75, 3], "labelOverlap": false,
                "labelExpr": "datum.value % 0.5 == 0 ? (datum.value == 0 ? '0' : format(datum.value, '.1f')) : ''",
                "tickSize": {"condition": {"test": "datum.value % 0.5 == 0", "value": -18}, "value": -11},
                "labelPadding": 33,
                "title": ["速度/10⁴ (r/min)", "(a) 幅频曲线"], "titleLineHeight": 114, "titleBaseline": "middle", "titleAlign": "center", "titleX": 649, "titleY": 150}},
            "y": {"field": "amp", "type": "quantitative", "scale": {"type": "log", "domain": [1e-8, 0.1], "nice": false},
              "axis": {"values": [1e-8, 2e-8, 3e-8, 4e-8, 5e-8, 6e-8, 7e-8, 8e-8, 9e-8, 1e-7, 2e-7, 3e-7, 4e-7, 5e-7, 6e-7, 7e-7, 8e-7, 9e-7, 1e-6, 2e-6, 3e-6, 4e-6, 5e-6, 6e-6, 7e-6, 8e-6, 9e-6, 1e-5, 2e-5, 3e-5, 4e-5, 5e-5, 6e-5, 7e-5, 8e-5, 9e-5, 1e-4, 2e-4, 3e-4, 4e-4, 5e-4, 6e-4, 7e-4, 8e-4, 9e-4, 1e-3, 2e-3, 3e-3, 4e-3, 5e-3, 6e-3, 7e-3, 8e-3, 9e-3, 1e-2, 2e-2, 3e-2, 4e-2, 5e-2, 6e-2, 7e-2, 8e-2, 9e-2, 0.1], "labelOverlap": false,
                "labelExpr": "abs(log(datum.value)/LN10 - round(log(datum.value)/LN10)) < 0.001 ? '10⁻' + ['⁰','¹','²','³','⁴','⁵','⁶','⁷','⁸','⁹'][-round(log(datum.value)/LN10)] : ''",
                "tickSize": {"condition": {"test": "abs(log(datum.value)/LN10 - round(log(datum.value)/LN10)) < 0.001", "value": -18}, "value": -11},
                "labelPadding": 45,
                "title": "振动位移幅值/mm", "titleAngle": -90, "titleBaseline": "middle", "titleAlign": "center", "titleX": -207, "titleY": 429}},
            "color": {"field": "temp", "type": "nominal",
              "scale": {"domain": ["200 ℃", "160 ℃", "120 ℃", "80 ℃", "40 ℃", "0 ℃"], "range": ["#0000ff", "#f0883a", "#ff00ff", "#00e600", "#8000ff", "#ff0000"]},
              "legend": {"title": null, "orient": "none", "direction": "horizontal", "legendX": 218, "legendY": 625, "columns": 3, "padding": 0, "rowPadding": 13, "columnPadding": 50, "gridAlign": "each", "symbolSize": 3600, "symbolStrokeWidth": 6, "labelOffset": 43, "labelFontSize": 64,
                "encode": {"symbols": {"update": {
                  "shape": {"signal": "datum.value == '200 ℃' ? 'M-2,0H-0.22M0.22,0H2M0.22,0A0.22,0.22,0,1,1,-0.22,0A0.22,0.22,0,1,1,0.22,0Z' : datum.value == '120 ℃' ? 'M-2,0H-0.17M0.17,0H2M0,-0.27L0.25,0.14L-0.25,0.14Z' : datum.value == '40 ℃' ? 'M-2,0H-0.28M0.28,0H2M0,-0.28L0.28,0L0,0.28L-0.28,0Z' : 'M-2,0H2'"},
                  "strokeDash": {"signal": "datum.value == '160 ℃' ? [17,17,0.01,17] : datum.value == '80 ℃' ? [10,20] : datum.value == '0 ℃' ? [12,18] : [1,0]"},
                  "fill": {"value": "white"},
                  "strokeCap": {"value": "round"}
                }}}}},
            "strokeDash": {"field": "temp", "type": "nominal",
              "scale": {"domain": ["200 ℃", "160 ℃", "120 ℃", "80 ℃", "40 ℃", "0 ℃"], "range": [[1, 0], [17, 17, 0.01, 17], [1, 0], [10, 20], [1, 0], [14, 16]]},
              "legend": null}
          }
        },
        {
          "data": {"name": "topMarks"},
          "mark": {"type": "point", "filled": false, "fill": "white", "fillOpacity": 1, "opacity": 1, "strokeWidth": 3, "clip": true},
          "encoding": {
            "x": {"field": "speed", "type": "quantitative"},
            "y": {"field": "amp", "type": "quantitative"},
            "stroke": {"field": "temp", "type": "nominal", "scale": {"domain": ["200 ℃", "120 ℃", "40 ℃"], "range": ["#0000ff", "#ff00ff", "#8000ff"]}, "legend": null},
            "shape": {"field": "temp", "type": "nominal", "scale": {"domain": ["200 ℃", "120 ℃", "40 ℃"], "range": ["circle", "triangle-up", "diamond"]}, "legend": null},
            "size": {"field": "temp", "type": "nominal", "scale": {"domain": ["200 ℃", "120 ℃", "40 ℃"], "range": [200, 260, 300]}, "legend": null}
          }
        },
        {
          "data": {"name": "boxA"},
          "mark": {"type": "rect", "fill": "transparent", "stroke": "#ff0000", "strokeWidth": 5},
          "encoding": {
            "x": {"field": "x1", "type": "quantitative"},
            "x2": {"field": "x2"},
            "y": {"field": "y1", "type": "quantitative"},
            "y2": {"field": "y2"}
          }
        },
        {
          "data": {"name": "labelA"},
          "mark": {"type": "text", "color": "#ff0000", "fontSize": 72, "font": "Liberation Serif", "align": "center", "baseline": "middle"},
          "encoding": {
            "x": {"field": "speed", "type": "quantitative"},
            "y": {"field": "amp", "type": "quantitative"},
            "text": {"field": "text"}
          }
        }
      ]
    },
    {
      "width": 1298,
      "height": 868,
      "resolve": {"axis": {"y": "independent"}},
      "layer": [
        {
          "data": {"name": "zoomLines"},
          "mark": {"type": "line", "strokeWidth": 5, "strokeCap": "round", "strokeJoin": "round", "clip": true},
          "encoding": {
            "x": {"field": "speed", "type": "quantitative", "scale": {"domain": [0.725, 1.044], "nice": false, "zero": false},
              "axis": {"values": [0.75, 0.775, 0.8, 0.825, 0.85, 0.875, 0.9, 0.925, 0.95, 0.975, 1.0, 1.025], "labelOverlap": false,
                "labelExpr": "abs(datum.value*20 - round(datum.value*20)) < 0.001 ? format(datum.value, '.2f') : ''",
                "tickSize": {"condition": {"test": "abs(datum.value*20 - round(datum.value*20)) < 0.001", "value": -18}, "value": -11},
                "labelPadding": 35,
                "title": ["速度/10⁴ (r/min)", "(b) A处放大图"], "titleLineHeight": 111, "titleBaseline": "middle", "titleAlign": "center", "titleX": 649, "titleY": 161}},
            "y": {"field": "amp", "type": "quantitative", "scale": {"domain": [0.0003, 0.005], "nice": false, "zero": false},
              "axis": {"orient": "left", "values": [0.001, 0.002, 0.003, 0.004, 0.005], "format": ".3f", "labelOverlap": false,
                "tickSize": -18,
                "labelPadding": 43,
                "title": "振动位移幅值/mm", "titleAngle": -90, "titleBaseline": "middle", "titleAlign": "center", "titleX": -253, "titleY": 434}},
            "color": {"field": "temp", "type": "nominal",
              "scale": {"domain": ["200 ℃", "160 ℃", "120 ℃", "80 ℃", "40 ℃", "0 ℃"], "range": ["#0000ff", "#f0883a", "#ff00ff", "#00e600", "#8000ff", "#ff0000"]},
              "legend": {"title": null, "orient": "none", "direction": "horizontal", "legendX": 60, "legendY": 13, "columns": 3, "padding": 0, "rowPadding": 15, "columnPadding": 50, "gridAlign": "each", "symbolSize": 3600, "symbolStrokeWidth": 6, "labelOffset": 43, "labelFontSize": 64,
                "encode": {"symbols": {"update": {
                  "shape": {"signal": "datum.value == '200 ℃' ? 'M-2,0H-0.22M0.22,0H2M0.22,0A0.22,0.22,0,1,1,-0.22,0A0.22,0.22,0,1,1,0.22,0Z' : datum.value == '120 ℃' ? 'M-2,0H-0.17M0.17,0H2M0,-0.27L0.25,0.14L-0.25,0.14Z' : datum.value == '40 ℃' ? 'M-2,0H-0.28M0.28,0H2M0,-0.28L0.28,0L0,0.28L-0.28,0Z' : 'M-2,0H2'"},
                  "strokeDash": {"signal": "datum.value == '160 ℃' ? [17,17,0.01,17] : datum.value == '80 ℃' ? [10,20] : datum.value == '0 ℃' ? [12,18] : [1,0]"},
                  "fill": {"value": "white"},
                  "strokeCap": {"value": "round"}
                }}}}},
            "strokeDash": {"field": "temp", "type": "nominal",
              "scale": {"domain": ["200 ℃", "160 ℃", "120 ℃", "80 ℃", "40 ℃", "0 ℃"], "range": [[1, 0], [17, 17, 0.01, 17], [1, 0], [12, 18], [1, 0], [0.01, 11]]},
              "legend": null}
          }
        },
        {
          "data": {"name": "zoomMarks"},
          "mark": {"type": "point", "filled": false, "fill": "white", "fillOpacity": 1, "opacity": 1, "strokeWidth": 3, "clip": true},
          "encoding": {
            "x": {"field": "speed", "type": "quantitative"},
            "y": {"field": "amp", "type": "quantitative",
              "axis": {"orient": "left", "values": [0.0004, 0.0005, 0.0006, 0.0007, 0.0008, 0.0009, 0.0011, 0.0012, 0.0013, 0.0014, 0.0015, 0.0016, 0.0017, 0.0018, 0.0019, 0.0021, 0.0022, 0.0023, 0.0024, 0.0025, 0.0026, 0.0027, 0.0028, 0.0029, 0.0031, 0.0032, 0.0033, 0.0034, 0.0035, 0.0036, 0.0037, 0.0038, 0.0039, 0.0041, 0.0042, 0.0043, 0.0044, 0.0045, 0.0046, 0.0047, 0.0048, 0.0049], "labels": false, "tickSize": -11, "title": null}},
            "stroke": {"field": "temp", "type": "nominal", "scale": {"domain": ["200 ℃", "120 ℃", "40 ℃"], "range": ["#0000ff", "#ff00ff", "#8000ff"]}, "legend": null},
            "shape": {"field": "temp", "type": "nominal", "scale": {"domain": ["200 ℃", "120 ℃", "40 ℃"], "range": ["circle", "triangle-up", "diamond"]}, "legend": null},
            "size": {"field": "temp", "type": "nominal", "scale": {"domain": ["200 ℃", "120 ℃", "40 ℃"], "range": [200, 260, 300]}, "legend": null}
          }
        }
      ]
    }
  ]
}
